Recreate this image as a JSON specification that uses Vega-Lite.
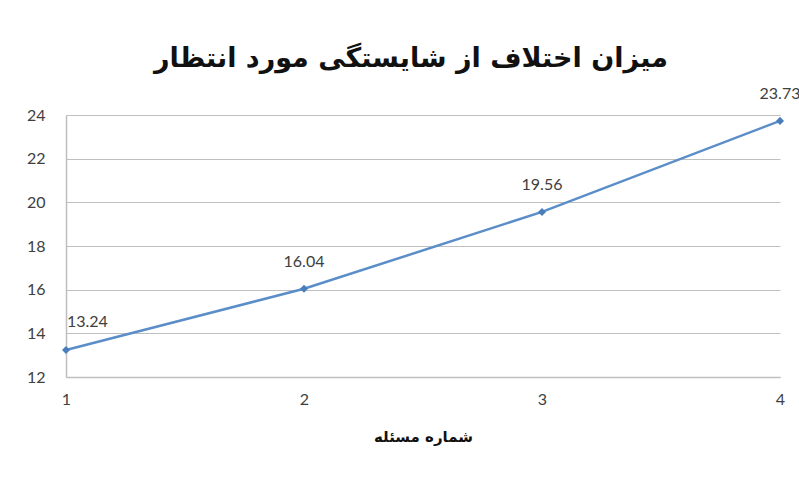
{
  "$schema": "https://vega.github.io/schema/vega-lite/v6.json",
  "autosize": {"type": "none"},
  "width": 714,
  "height": 262,
  "padding": {"left": 66, "top": 115, "right": 19, "bottom": 104},
  "background": "white",
  "config": {
    "view": {"stroke": null},
    "font": "Lato",
    "axis": {"labelFont": "Lato", "labelFontSize": 16, "labelColor": "#404040", "titleFont": "DejaVu Sans", "labelFlush": false}
  },
  "title": {
    "text": "میزان اختلاف از شایستگی مورد انتظار",
    "font": "DejaVu Sans",
    "fontSize": 27,
    "fontWeight": "bold",
    "color": "#111111",
    "anchor": "middle",
    "frame": "group",
    "dx": -12,
    "offset": 13
  },
  "data": {
    "values": [
      {"problem": 1, "value": 13.24},
      {"problem": 2, "value": 16.04},
      {"problem": 3, "value": 19.56},
      {"problem": 4, "value": 23.73}
    ]
  },
  "encoding": {
    "x": {
      "field": "problem",
      "type": "quantitative",
      "scale": {"domain": [1, 4], "nice": false, "zero": false},
      "axis": {
        "values": [1, 2, 3, 4],
        "format": "d",
        "grid": false,
        "ticks": false,
        "domain": true,
        "domainColor": "#bfbfbf",
        "domainWidth": 1.5,
        "labelPadding": 14,
        "labelFlush": false,
        "title": "شماره مسئله",
        "titleFontSize": 15,
        "titleFontWeight": "bold",
        "titleColor": "#111111",
        "titlePadding": 22
      }
    },
    "y": {
      "field": "value",
      "type": "quantitative",
      "scale": {"domain": [12, 24], "nice": false, "zero": false},
      "axis": {
        "values": [12, 14, 16, 18, 20, 22, 24],
        "grid": true,
        "gridColor": "#bfbfbf",
        "gridWidth": 1.2,
        "ticks": false,
        "domain": true,
        "domainColor": "#bfbfbf",
        "domainWidth": 1.5,
        "labelPadding": 21,
        "labelFlush": false,
        "title": null
      }
    }
  },
  "layer": [
    {
      "mark": {"type": "line", "color": "#5b8ec8", "strokeWidth": 2.5}
    },
    {
      "mark": {"type": "point", "shape": "diamond", "filled": true, "size": 65, "color": "#4a7ebb", "opacity": 1}
    },
    {
      "transform": [{"filter": "datum.problem == 1"}],
      "mark": {"type": "text", "align": "left", "dx": 1, "dy": -28, "fontSize": 16, "color": "#404040", "font": "Lato"},
      "encoding": {"text": {"field": "value", "type": "quantitative", "format": ".2f"}}
    },
    {
      "transform": [{"filter": "datum.problem > 1"}],
      "mark": {"type": "text", "align": "center", "dy": -27, "fontSize": 16, "color": "#404040", "font": "Lato"},
      "encoding": {"text": {"field": "value", "type": "quantitative", "format": ".2f"}}
    }
  ]
}
